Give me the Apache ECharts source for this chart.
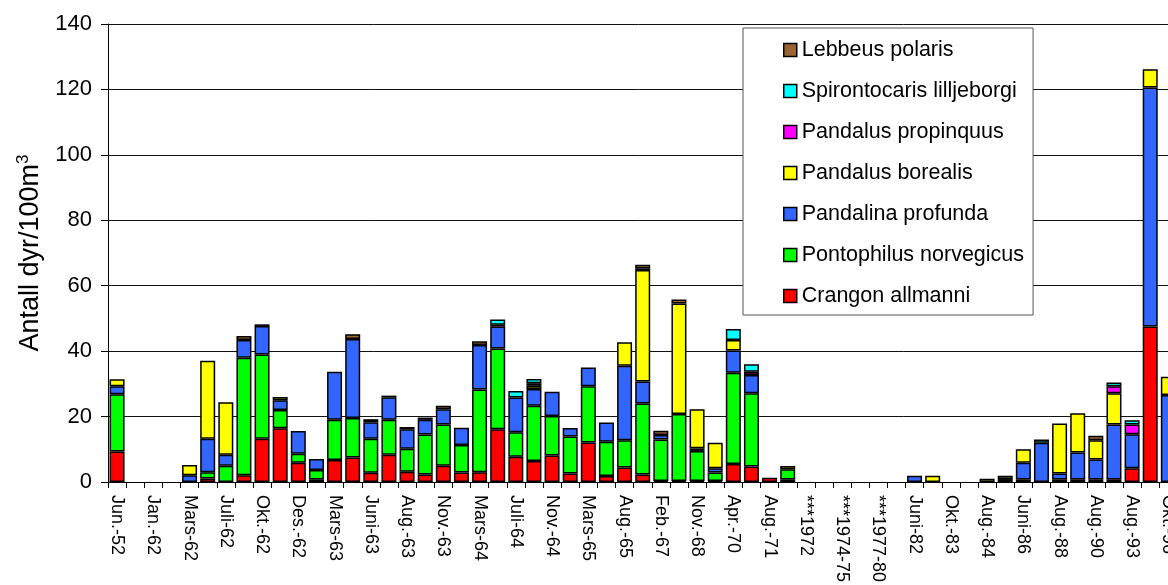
<!DOCTYPE html>
<html><head><meta charset="utf-8">
<script src="https://cdn.jsdelivr.net/npm/echarts@6/dist/echarts.min.js"></script>
<style>html,body{margin:0;padding:0;background:#fff}#c{width:1168px;height:585px}</style>
</head><body><div id="c"></div>
<script>
// categories (odd slots are unlabeled in the original)
const categories = [
 'Jun.-52','','Jan.-62','','Mars-62','','Juli-62','','Okt.-62','',
 'Des.-62','','Mars-63','','Juni-63','','Aug.-63','','Nov.-63','',
 'Mars-64','','Juli-64','','Nov.-64','','Mars-65','','Aug.-65','',
 'Feb.-67','','Nov.-68','','Apr.-70','','Aug.-71','','***1972','',
 '***1974-75','','***1977-80','','Juni-82','','Okt.-83','','Aug.-84','',
 'Juni-86','','Aug.-88','','Aug.-90','','Aug.-93','','Okt.-96'
];
const N = null;
const crangon = [9.3,N,N,N,N,1.1,N,2.1,13.2,16.4, 5.9,0.8,6.7,7.5,2.8,8.3,3.1,2.3,5.0,2.9,
 3.0,16.1,7.7,6.4,8.1,2.6,12.1,1.8,4.4,2.3, 0.3,0.3,0.3,0.3,5.5,4.7,1.3,0.8,N,N,
 N,N,N,N,N,N,N,N,N,N, N,N,0.8,0.8,0.8,0.8,4.2,47.5,N];
const pontophilus = [17.5,N,N,N,N,1.9,5.0,35.9,25.8,5.6, 2.7,2.9,12.3,12.1,10.4,10.7,7.1,12.2,12.6,8.4,
 25.3,24.7,7.5,16.9,12.1,11.3,17.2,10.5,8.4,21.7, 12.7,20.5,9.2,2.6,27.9,22.4,N,3.1,N,N,
 N,N,N,N,N,N,N,N,N,N, 0.8,N,N,N,N,N,N,N,N];
const pandalina = [2.5,N,N,N,2.1,10.2,3.3,5.4,8.7,3.0, 7.0,3.3,14.7,24.1,5.1,6.9,5.9,4.5,4.6,5.3,
 13.6,6.7,10.6,5.1,7.4,2.6,5.7,5.9,22.7,6.7, 1.4,N,0.8,1.3,6.8,5.6,N,N,N,N,
 N,N,N,N,1.9,N,N,N,N,0.9, 5.1,12.0,1.8,8.2,6.1,16.8,10.4,73.1,26.6];
const borealis = [2.1,N,N,N,3.1,23.9,16.1,N,N,1.0, N,N,N,N,N,N,N,N,N,N,
 N,0.6,N,1.0,N,N,N,N,7.2,34.1, N,33.8,11.9,7.8,3.2,N,N,1.0,N,N,
 N,N,N,N,N,1.9,N,N,1.0,1.0, 4.1,N,15.3,12.0,5.9,9.5,N,5.6,5.6];
const propinquus = [N,N,N,N,N,N,N,N,N,N, N,N,N,N,N,N,N,N,N,N,
 N,N,N,0.8,N,N,N,N,N,0.5, N,N,N,N,N,1.0,N,N,N,N,
 N,N,N,N,N,N,N,N,N,N, N,N,N,N,N,2.2,3.0,N,N];
const spirontocaris = [N,N,N,N,N,N,N,N,N,N, N,N,N,N,N,N,N,N,N,N,
 N,1.6,2.0,1.3,N,N,N,N,N,N, N,N,N,N,3.4,2.3,N,N,N,N,
 N,N,N,N,N,N,N,N,N,N, N,1.0,N,N,N,1.1,1.3,N,N];
const lebbeus = [N,N,N,N,N,N,N,1.2,0.5,N, N,N,N,1.5,0.9,0.5,0.7,0.7,1.1,N,
 1.1,N,N,N,N,N,N,N,N,1.1, 1.3,1.2,N,N,N,N,N,N,N,N,
 N,N,N,N,N,N,N,N,N,N, N,N,N,N,1.3,N,N,N,N];
const yTicks = [0,20,40,60,80,100,120,140];

const seriesDefs = [
 ['Crangon allmanni', crangon, '#FF0000'],
 ['Pontophilus norvegicus', pontophilus, '#00FF00'],
 ['Pandalina profunda', pandalina, '#3366FF'],
 ['Pandalus borealis', borealis, '#FFFF00'],
 ['Pandalus propinquus', propinquus, '#FF00FF'],
 ['Spirontocaris lilljeborgi', spirontocaris, '#00FFFF'],
 ['Lebbeus polaris', lebbeus, '#996633']
];
const FONT = '"Liberation Sans", Arial, sans-serif';
const chart = echarts.init(document.getElementById('c'), null, {renderer:'canvas'});
chart.setOption({
  animation: false,
  backgroundColor: '#fff',
  grid: {left: 108, right: -9.4, top: 24, bottom: 103, containLabel: false, outerBoundsMode: 'none'},
  legend: {
    orient: 'vertical', left: 743, top: 28,
    data: seriesDefs.map(s => s[0]).reverse(),
    icon: 'rect', itemWidth: 13, itemHeight: 13, itemGap: 19,
    padding: [11, 9, 8, 40],
    backgroundColor: '#fff', borderColor: '#555', borderWidth: 1,
    itemStyle: {borderColor: '#000', borderWidth: 1.5},
    textStyle: {fontFamily: FONT, fontSize: 21.5, color: '#000', lineHeight: 21, padding: [0,0,0,0]},
    selectedMode: false
  },
  xAxis: {
    type: 'category', data: categories,
    axisLine: {lineStyle: {color: '#000', width: 1}},
    axisTick: {show: true, interval: 0, length: 6, lineStyle: {color: '#000'}},
    axisLabel: {interval: 1, rotate: -90, margin: 13, fontFamily: FONT, fontSize: 18, color: '#000'},
    splitLine: {show: false}
  },
  yAxis: {
    type: 'value', min: yTicks[0], max: yTicks[yTicks.length-1], interval: 20,
    name: 'Antall dyr/100m{sup|3}', nameLocation: 'middle', nameGap: 54, nameRotate: 90,
    nameTextStyle: {fontFamily: FONT, fontSize: 27, color: '#000',
      rich: {sup: {fontFamily: FONT, fontSize: 17, color: '#000', verticalAlign: 'top', padding: [0,0,15,0]}}},
    axisLine: {show: true, lineStyle: {color: '#000', width: 1}},
    axisTick: {show: true, length: 7, lineStyle: {color: '#000'}},
    axisLabel: {margin: 16, fontFamily: FONT, fontSize: 22, color: '#000'},
    splitLine: {show: true, lineStyle: {color: '#111', width: 1}}
  },
  series: seriesDefs.map(([name, data, color]) => ({
    name, type: 'bar', stack: 'total', data,
    barWidth: 15,
    itemStyle: {color, borderColor: '#000', borderWidth: 1.5},
    emphasis: {disabled: true}
  }))
});
</script>
</body></html>
